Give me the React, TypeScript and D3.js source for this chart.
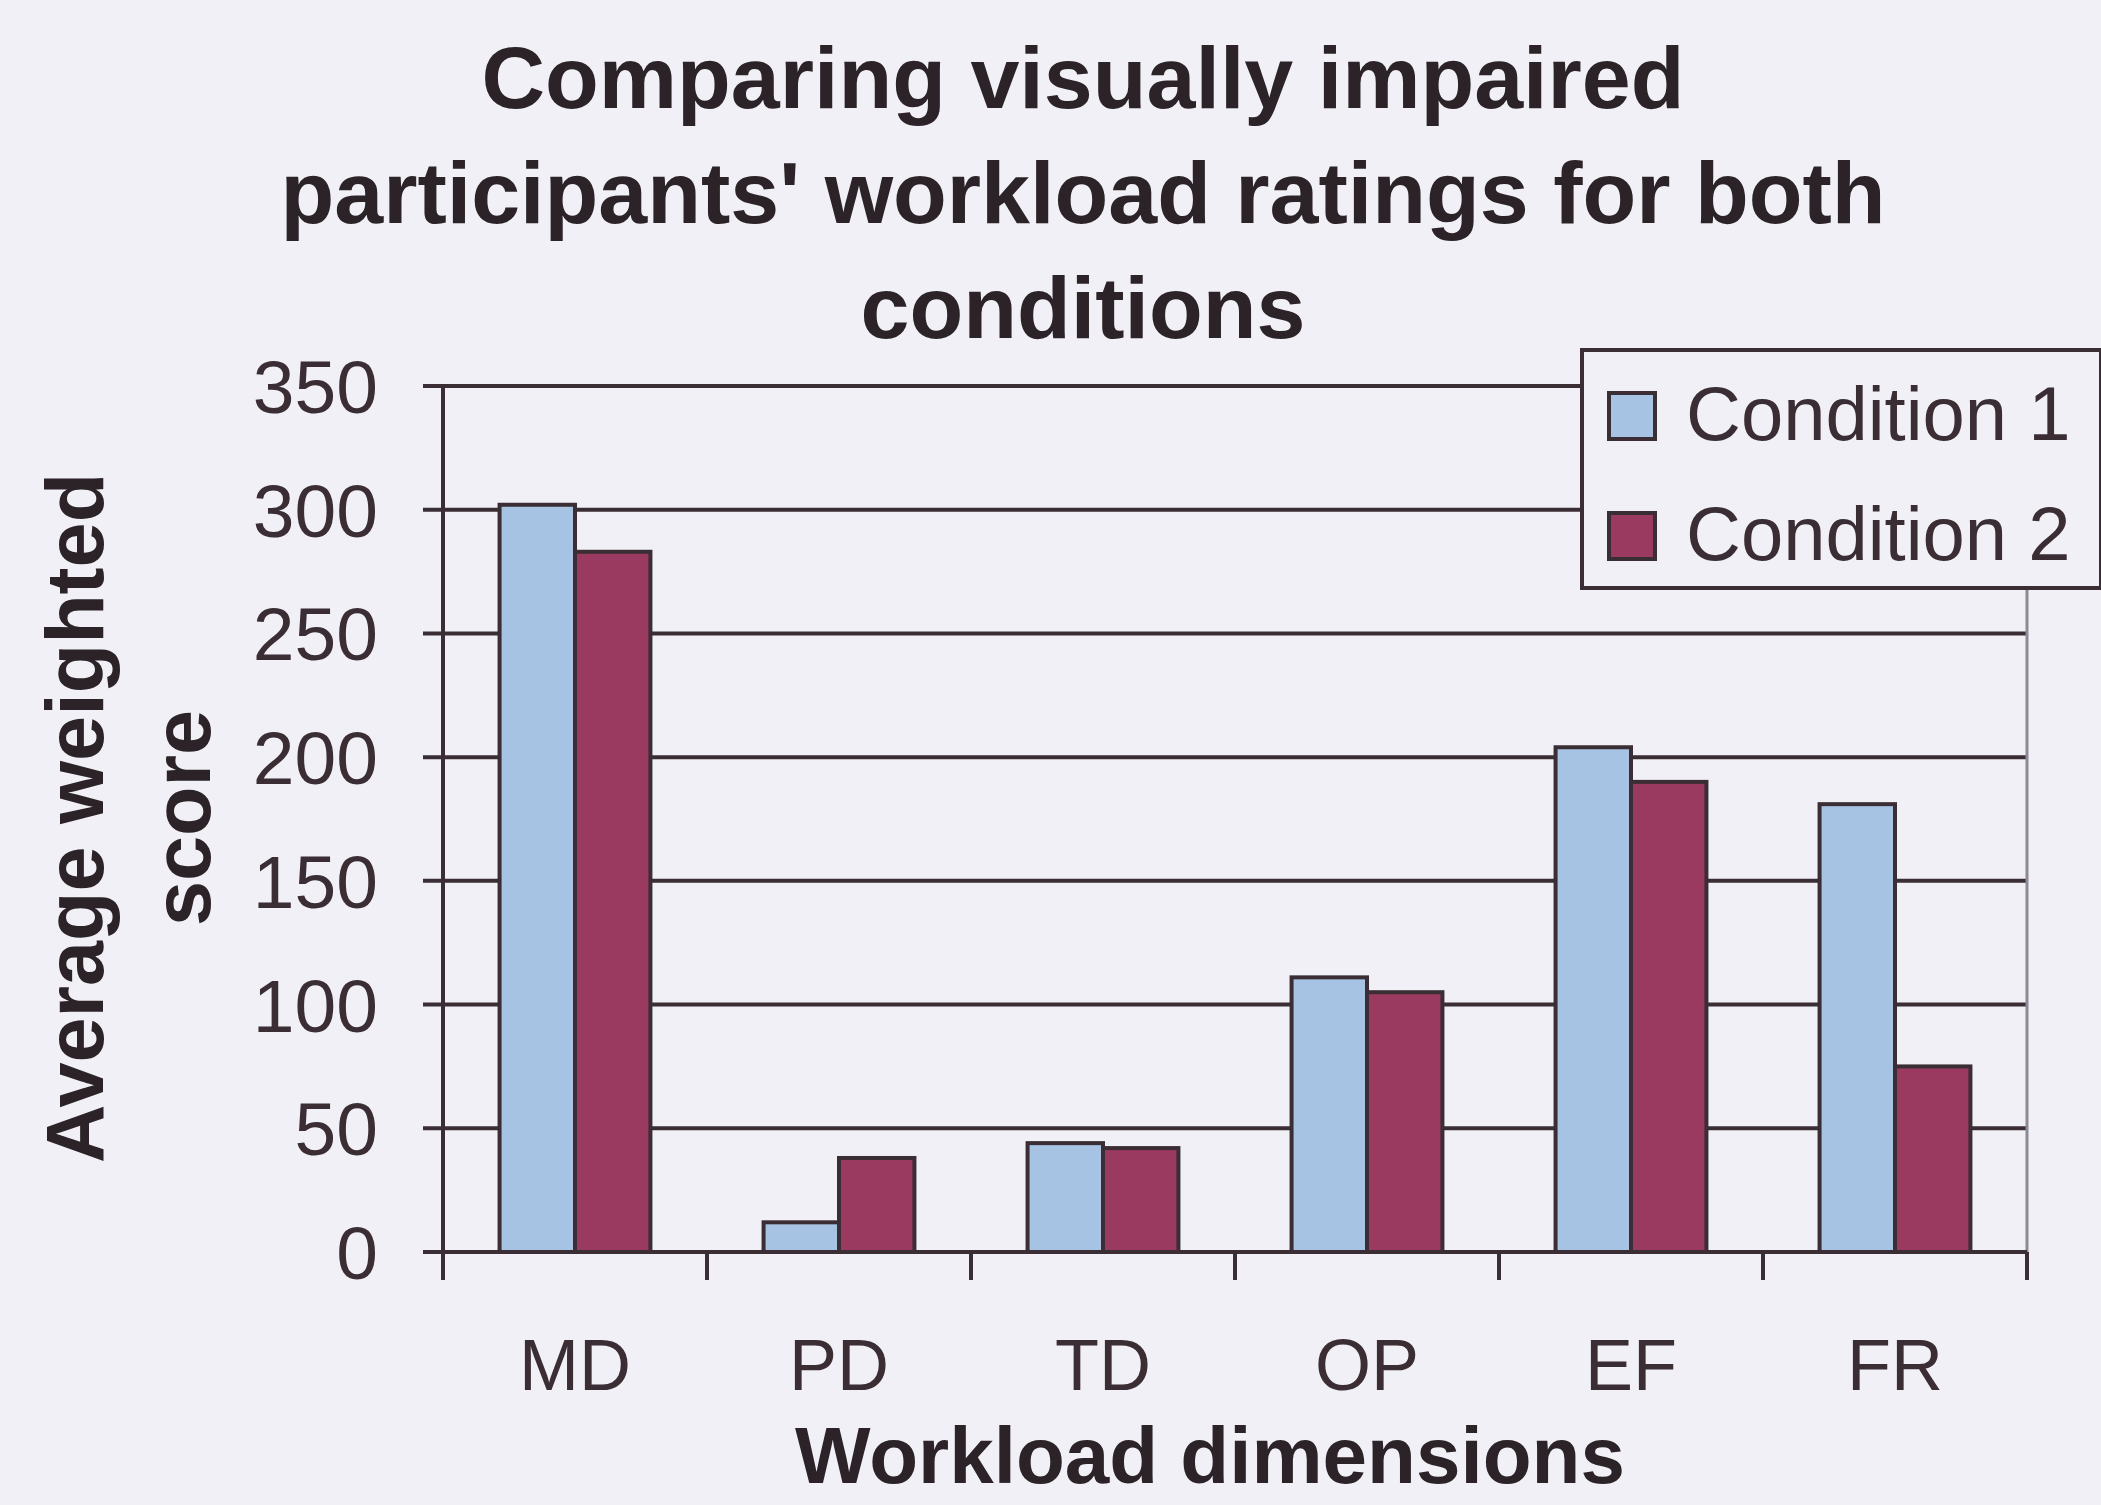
import React from "react";
import * as d3 from "d3";

const categories = ["MD", "PD", "TD", "OP", "EF", "FR"];
const seriesNames = ["Condition 1", "Condition 2"];
const condition1 = [302, 12, 44, 111, 204, 181];
const condition2 = [283, 38, 42, 105, 190, 75];
const yTicks = [0, 50, 100, 150, 200, 250, 300, 350];
const titleLines = [
    "Comparing visually impaired",
    "participants' workload ratings for both",
    "conditions",
];
const yTitleLines = ["Average weighted", "score"];

const W = 2101;
const H = 1505;
const BG = "#f0f0f6";
const INK = "#3a2e34";
const COLORS = ["#a6c3e4", "#9b3a60"];
const FONT = "'Liberation Sans', Arial, sans-serif";

const App: React.FC = () => {
    const plot = { left: 443, right: 2027, top: 386, bottom: 1252 };

    const y = d3.scaleLinear().domain([0, 350]).range([plot.bottom, plot.top]);
    const x0 = d3
        .scaleBand<string>()
        .domain(categories)
        .range([plot.left, plot.right])
        .padding(0);
    // excel-style gap width 150 -> outer padding 0.75 of a bar
    const x1 = d3
        .scaleBand<string>()
        .domain(seriesNames)
        .range([0, x0.bandwidth()])
        .paddingInner(0)
        .paddingOuter(0.75);

    const values = [condition1, condition2];
    const boundaries = categories.map((c) => x0(c)!).concat([plot.right]);

    return (
        <svg
            width={W}
            height={H}
            style={{ position: "absolute", left: 0, top: 0, background: BG }}
            fontFamily={FONT}
        >
            <rect x={0} y={0} width={W} height={H} fill={BG} />

            {/* title */}
            {titleLines.map((t, i) => (
                <text
                    key={t}
                    x={1083}
                    y={108 + i * 115}
                    textAnchor="middle"
                    fontSize={88}
                    fontWeight="bold"
                    fill="#2b2327"
                >
                    {t}
                </text>
            ))}

            {/* gridlines */}
            {yTicks
                .filter((v) => v > 0)
                .map((v) => (
                    <line
                        key={v}
                        x1={plot.left - 20}
                        x2={plot.right}
                        y1={y(v)}
                        y2={y(v)}
                        stroke={INK}
                        strokeWidth={4}
                    />
                ))}

            {/* right border of plot area */}
            <line
                x1={plot.right}
                x2={plot.right}
                y1={plot.top}
                y2={plot.bottom}
                stroke="#8c8a94"
                strokeWidth={3}
            />

            {/* bars */}
            {values.map((vals, s) =>
                vals.map((v, i) => (
                    <rect
                        key={`${s}-${i}`}
                        x={x0(categories[i])! + x1(seriesNames[s])!}
                        y={y(v)}
                        width={x1.bandwidth()}
                        height={y(0) - y(v)}
                        fill={COLORS[s]}
                        stroke={INK}
                        strokeWidth={4}
                    />
                ))
            )}

            {/* axes */}
            <line
                x1={plot.left}
                x2={plot.left}
                y1={plot.top}
                y2={plot.bottom + 28}
                stroke={INK}
                strokeWidth={4}
            />
            <line
                x1={plot.left - 20}
                x2={plot.right}
                y1={plot.bottom}
                y2={plot.bottom}
                stroke={INK}
                strokeWidth={4}
            />
            {boundaries.map((bx, i) => (
                <line
                    key={i}
                    x1={bx}
                    x2={bx}
                    y1={plot.bottom}
                    y2={plot.bottom + 28}
                    stroke={INK}
                    strokeWidth={4}
                />
            ))}

            {/* y tick labels */}
            {yTicks.map((v) => (
                <text
                    key={v}
                    x={378}
                    y={y(v)}
                    dy="0.36em"
                    textAnchor="end"
                    fontSize={75}
                    fill={INK}
                >
                    {v}
                </text>
            ))}

            {/* x tick labels */}
            {categories.map((c) => (
                <text
                    key={c}
                    x={x0(c)! + x0.bandwidth() / 2}
                    y={1390}
                    textAnchor="middle"
                    fontSize={72}
                    fill={INK}
                >
                    {c}
                </text>
            ))}

            {/* axis titles */}
            <text
                x={1210}
                y={1483}
                textAnchor="middle"
                fontSize={80}
                fontWeight="bold"
                fill="#2b2327"
            >
                Workload dimensions
            </text>
            {yTitleLines.map((t, i) => {
                const bx = 103 + i * 107;
                return (
                    <text
                        key={t}
                        transform={`translate(${bx},818) rotate(-90)`}
                        textAnchor="middle"
                        fontSize={81}
                        fontWeight="bold"
                        fill="#2b2327"
                    >
                        {t}
                    </text>
                );
            })}

            {/* legend */}
            <rect
                x={1582}
                y={350}
                width={519}
                height={238}
                fill={BG}
                stroke={INK}
                strokeWidth={4}
            />
            {seriesNames.map((name, i) => (
                <g key={name}>
                    <rect
                        x={1609}
                        y={393 + i * 120}
                        width={46}
                        height={46}
                        fill={COLORS[i]}
                        stroke={INK}
                        strokeWidth={4}
                    />
                    <text x={1686} y={440 + i * 120} fontSize={76} fill={INK}>
                        {name}
                    </text>
                </g>
            ))}
        </svg>
    );
};

export default App;
